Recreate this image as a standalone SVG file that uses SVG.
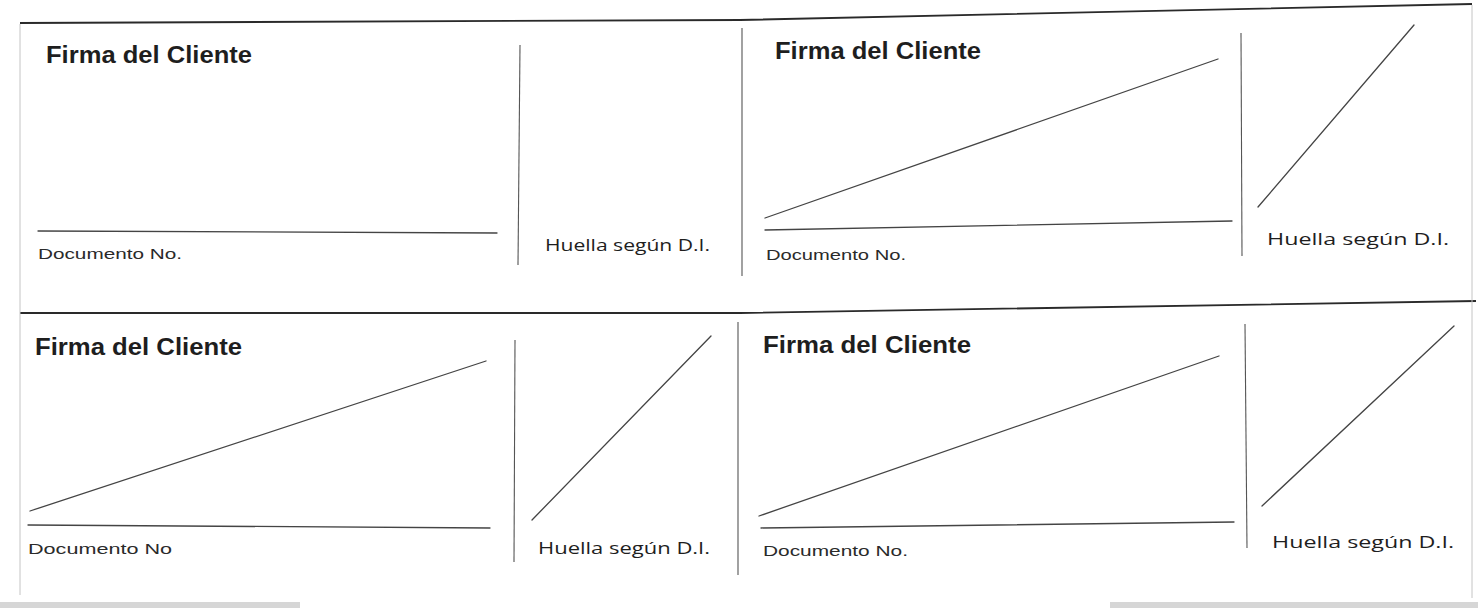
<svg xmlns="http://www.w3.org/2000/svg" width="1478" height="608" viewBox="0 0 1478 608">
<style>
.bg{fill:#ffffff}
.ln{stroke:#444;stroke-width:1.3;fill:none;stroke-linecap:round}
.lt{stroke:#555;stroke-width:1.1;fill:none}
.fr{stroke:#c4c4c4;stroke-width:1;fill:none}
.brd{stroke:#2a2a2a;stroke-width:1.8;fill:none}
.t1{font-family:"Liberation Sans",Arial,sans-serif;font-weight:bold;font-size:23px;fill:#1e1e1e}
.t2{font-family:"Open Sans","Liberation Sans",sans-serif;font-size:16px;fill:#1e1e1e}
.t3{font-family:"Liberation Sans",Arial,sans-serif;font-size:14px;fill:#2a2a2a}
</style>
<rect class="bg" x="0" y="0" width="1478" height="608"/>
<rect x="0" y="602" width="300" height="6" fill="#d6d6d6"/>
<rect x="1110" y="602" width="368" height="6" fill="#d6d6d6"/>
<g id="frame">
<polyline class="brd" points="20,23 740,20 1472,4"/>
<polyline class="brd" points="20,313 740,313 1476,301"/>
<line class="fr" x1="20" y1="24" x2="20" y2="595"/>
<line class="fr" x1="1472" y1="5" x2="1472" y2="598"/>
<line class="lt" x1="742" y1="28" x2="742" y2="276"/>
<line class="lt" x1="738" y1="322" x2="738" y2="575"/>
</g>
<g id="cell-top-left">
<text class="t1" x="46" y="63" textLength="206" lengthAdjust="spacingAndGlyphs">Firma del Cliente</text>
<line class="ln" x1="38" y1="231" x2="497" y2="233"/>
<text class="t3" x="38" y="259" textLength="144" lengthAdjust="spacingAndGlyphs">Documento No.</text>
<line class="lt" x1="520" y1="45" x2="518" y2="265"/>
<text class="t2" x="545" y="251" textLength="165" lengthAdjust="spacingAndGlyphs">Huella según D.I.</text>
</g>
<g id="cell-top-right">
<text class="t1" x="775" y="59" textLength="206" lengthAdjust="spacingAndGlyphs">Firma del Cliente</text>
<line class="ln" x1="765" y1="218" x2="1218" y2="59"/>
<line class="ln" x1="765" y1="230" x2="1232" y2="221"/>
<text class="t3" x="766" y="260" textLength="140" lengthAdjust="spacingAndGlyphs">Documento No.</text>
<line class="lt" x1="1241" y1="33" x2="1242" y2="256"/>
<line class="ln" x1="1258" y1="207" x2="1414" y2="25"/>
<text class="t2" x="1267" y="245" textLength="182" lengthAdjust="spacingAndGlyphs">Huella según D.I.</text>
</g>
<g id="cell-bottom-left">
<text class="t1" x="35" y="355" textLength="207" lengthAdjust="spacingAndGlyphs">Firma del Cliente</text>
<line class="ln" x1="30" y1="511" x2="486" y2="361"/>
<line class="ln" x1="28" y1="525" x2="490" y2="528"/>
<text class="t3" x="28" y="554" textLength="144" lengthAdjust="spacingAndGlyphs">Documento No</text>
<line class="lt" x1="515" y1="340" x2="514" y2="562"/>
<line class="ln" x1="532" y1="520" x2="711" y2="336"/>
<text class="t2" x="538" y="554" textLength="172" lengthAdjust="spacingAndGlyphs">Huella según D.I.</text>
</g>
<g id="cell-bottom-right">
<text class="t1" x="763" y="353" textLength="208" lengthAdjust="spacingAndGlyphs">Firma del Cliente</text>
<line class="ln" x1="759" y1="516" x2="1219" y2="356"/>
<line class="ln" x1="761" y1="528" x2="1234" y2="522"/>
<text class="t3" x="763" y="556" textLength="145" lengthAdjust="spacingAndGlyphs">Documento No.</text>
<line class="lt" x1="1245" y1="324" x2="1247" y2="548"/>
<line class="ln" x1="1262" y1="506" x2="1454" y2="326"/>
<text class="t2" x="1272" y="548" textLength="182" lengthAdjust="spacingAndGlyphs">Huella según D.I.</text>
</g>
</svg>
